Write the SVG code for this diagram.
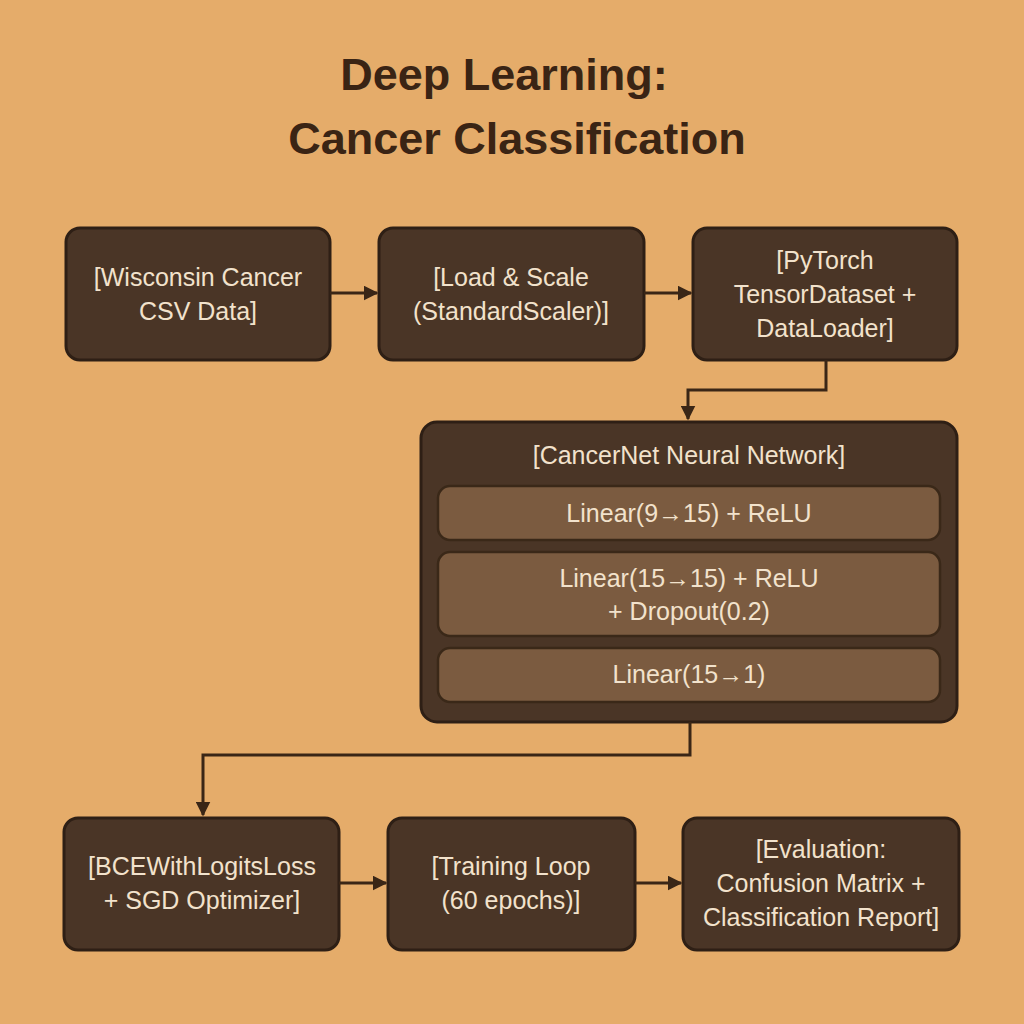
<svg xmlns="http://www.w3.org/2000/svg" width="1024" height="1024" viewBox="0 0 1024 1024">
<style>
.box{fill:#4a3526;stroke:#2e1f15;stroke-width:3}
.inner{fill:#7b5b40;stroke:#3a2818;stroke-width:2.5}
.t{font-family:"Liberation Sans",Arial,sans-serif;font-size:25px;fill:#f2e2cc;text-anchor:middle}
.title{font-family:"Liberation Sans",Arial,sans-serif;font-size:45px;font-weight:bold;fill:#3a2414;text-anchor:middle}
.c{fill:none;stroke:#3a2616;stroke-width:3}
</style>
<defs><marker id="ah" viewBox="0 0 10 10" refX="9" refY="5" markerWidth="5" markerHeight="5" orient="auto"><path d="M0,0L10,5L0,10z" fill="#3a2616"/></marker></defs>
<rect width="1024" height="1024" fill="#e5ac6a"/>
<text class="title" x="504" y="90">Deep Learning:</text>
<text class="title" x="517" y="154">Cancer Classification</text>
<g id="n1"><rect class="box" x="66" y="228" width="264" height="132" rx="14"/><text class="t" x="198" y="286">[Wisconsin Cancer</text><text class="t" x="198" y="320">CSV Data]</text></g>
<g id="n2"><rect class="box" x="379" y="228" width="265" height="132" rx="14"/><text class="t" x="511" y="286">[Load &amp; Scale</text><text class="t" x="511" y="320">(StandardScaler)]</text></g>
<g id="n3"><rect class="box" x="693" y="228" width="264" height="132" rx="14"/><text class="t" x="825" y="269">[PyTorch</text><text class="t" x="825" y="303">TensorDataset +</text><text class="t" x="825" y="337">DataLoader]</text></g>
<g id="n4"><rect class="box" x="421" y="422" width="536" height="300" rx="16"/><text class="t" x="689" y="464">[CancerNet Neural Network]</text>
<rect class="inner" x="438" y="486" width="502" height="54" rx="12"/><text class="t" x="689" y="522">Linear(9→15) + ReLU</text>
<rect class="inner" x="438" y="552" width="502" height="84" rx="12"/><text class="t" x="689" y="587">Linear(15→15) + ReLU</text><text class="t" x="689" y="620">+ Dropout(0.2)</text>
<rect class="inner" x="438" y="648" width="502" height="54" rx="12"/><text class="t" x="689" y="683">Linear(15→1)</text></g>
<g id="n5"><rect class="box" x="64" y="818" width="275" height="132" rx="14"/><text class="t" x="202" y="875">[BCEWithLogitsLoss</text><text class="t" x="202" y="909">+ SGD Optimizer]</text></g>
<g id="n6"><rect class="box" x="388" y="818" width="247" height="132" rx="14"/><text class="t" x="511" y="875">[Training Loop</text><text class="t" x="511" y="909">(60 epochs)]</text></g>
<g id="n7"><rect class="box" x="683" y="818" width="276" height="132" rx="14"/><text class="t" x="821" y="858">[Evaluation:</text><text class="t" x="821" y="892">Confusion Matrix +</text><text class="t" x="821" y="926">Classification Report]</text></g>
<g id="connectors">
<path class="c" d="M330,293H377" marker-end="url(#ah)"/>
<path class="c" d="M644,293H691" marker-end="url(#ah)"/>
<path class="c" d="M826,360V390H688V419" marker-end="url(#ah)"/>
<path class="c" d="M690,722V755H203V815" marker-end="url(#ah)"/>
<path class="c" d="M339,883H386" marker-end="url(#ah)"/>
<path class="c" d="M635,883H681" marker-end="url(#ah)"/>
</g>
</svg>
